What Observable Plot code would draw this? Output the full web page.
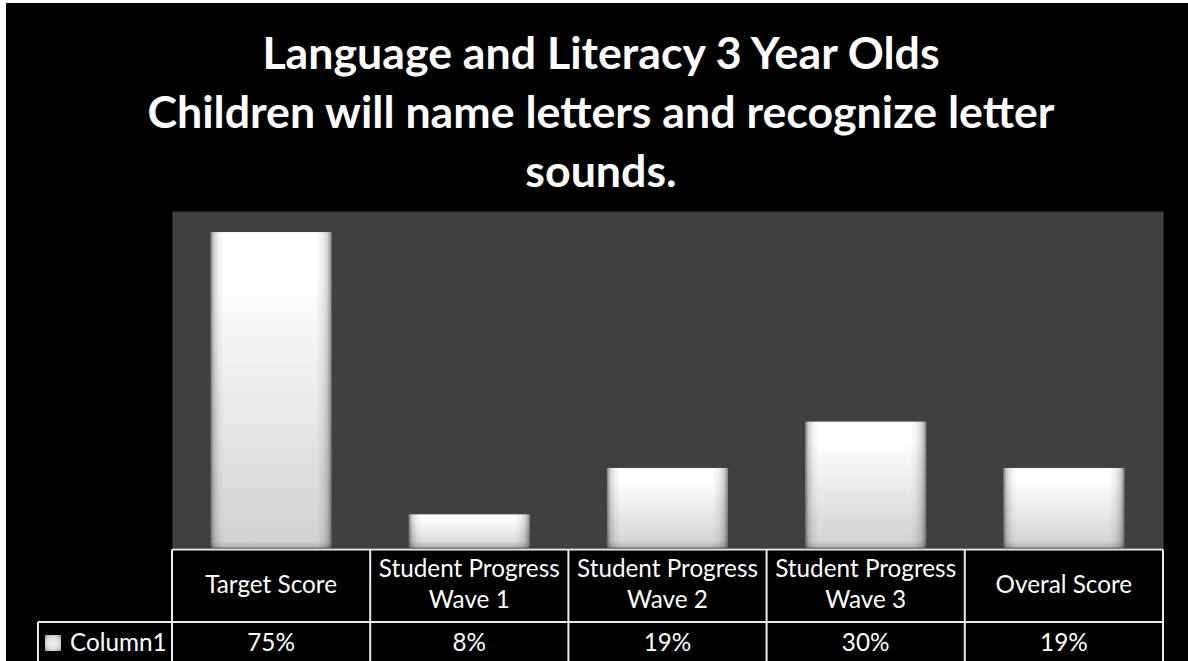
<!DOCTYPE html>
<html><head><meta charset="utf-8">
<script src="https://cdn.jsdelivr.net/npm/d3@7"></script>
<script src="https://cdn.jsdelivr.net/npm/@observablehq/plot@0.6"></script>
<style>
html,body{margin:0;padding:0;background:#fff;}
#frame{position:absolute;left:6px;top:3px;width:1182px;height:658px;background:#000;overflow:hidden;}
#frame svg{position:absolute;left:0;}
</style></head><body><div id="frame"></div>
<script>
// ---- data ----
const titleLines = ["Language and Literacy 3 Year Olds", "Children will name letters and recognize letter", "sounds."];
const categories = ["Target Score", "Student Progress\nWave 1", "Student Progress\nWave 2", "Student Progress\nWave 3", "Overal Score"];
const values = [75, 8, 19, 30, 19];
const valueLabels = ["75%", "8%", "19%", "30%", "19%"];
const seriesName = "Column1";
const yDomain = [0, 80];

// ---- layout ----
const W = 1182;
const FONT = "Lato";
const frame = d3.select("#frame");
const ctx = document.createElement("canvas").getContext("2d");
function fit(text, weight, target) {
  ctx.font = `${weight} 100px ${FONT}`;
  return 100 * target / ctx.measureText(text).width;
}
const titleSize = fit(titleLines[1], "bold", 908);
const cellSize = fit("Student Progress", "normal", 181);

// title
const tsvg = frame.append("svg").attr("width", W).attr("height", 208).style("top", "0px");
tsvg.selectAll("text").data(titleLines).join("text")
  .attr("x", 595).attr("y", (d, i) => 66 + i * 59)
  .attr("text-anchor", "middle").attr("fill", "#fff")
  .attr("font-family", FONT).attr("font-weight", "bold").attr("font-size", titleSize)
  .text(d => d);

// chart
const data = categories.map((c, i) => ({category: c, value: values[i]}));
const defs = () => {
  const d = d3.create("svg:defs");
  const g = d.append("linearGradient").attr("id", "barGrad").attr("x1", 0).attr("x2", 1).attr("y1", 0).attr("y2", 0);
  [[0, "#7a7a7a"], [0.012, "#a4a4a4"], [0.03, "#d2d2d2"], [0.065, "#f0f0f0"], [0.11, "#ffffff"],
   [0.87, "#ffffff"], [0.925, "#eeeeee"], [0.965, "#d0d0d0"], [0.988, "#a0a0a0"], [1, "#7a7a7a"]]
    .forEach(([o, c]) => g.append("stop").attr("offset", o).attr("stop-color", c));
  const v = d.append("linearGradient").attr("id", "barVert").attr("x1", 0).attr("x2", 0).attr("y1", 0).attr("y2", 1);
  v.append("stop").attr("offset", 0).attr("stop-color", "#000").attr("stop-opacity", 0);
  v.append("stop").attr("offset", 0.15).attr("stop-color", "#000").attr("stop-opacity", 0);
  v.append("stop").attr("offset", 1).attr("stop-color", "#000").attr("stop-opacity", 0.18);
  const s = d.append("linearGradient").attr("id", "barShade").attr("gradientUnits", "userSpaceOnUse")
    .attr("x1", 0).attr("x2", 0).attr("y1", 330).attr("y2", 337);
  s.append("stop").attr("offset", 0).attr("stop-color", "#000").attr("stop-opacity", 0);
  s.append("stop").attr("offset", 0.7).attr("stop-color", "#000").attr("stop-opacity", 0.12);
  s.append("stop").attr("offset", 1).attr("stop-color", "#000").attr("stop-opacity", 0.3);
  return d.node();
};
const bar = fill => Plot.barY(data, {x: "category", y: "value", fill, insetLeft: 38.5, insetRight: 38.5});
const chart = Plot.plot({
  width: W, height: 337,
  marginLeft: 166, marginRight: 25, marginTop: 0, marginBottom: 0,
  style: {background: "transparent"},
  x: {type: "band", domain: categories, padding: 0, round: false, axis: null},
  y: {domain: yDomain, axis: null},
  marks: [
    defs,
    Plot.frame({fill: "#404040", stroke: "none"}),
    bar("url(#barGrad)"),
    bar("url(#barVert)"),
    bar("url(#barShade)")
  ]
});
d3.select(chart).style("top", "208px");
frame.node().appendChild(chart);

// data table under the chart, columns from the chart's x scale
const xs = chart.scale("x");
const bw = xs.bandwidth;
const starts = categories.map(c => xs.apply(c));
const right = starts[starts.length - 1] + bw;
const tb = frame.append("svg").attr("width", W).attr("height", 113).style("top", "545px");
const idefs = tb.append("defs");
const ig = idefs.append("radialGradient").attr("id", "iconGrad").attr("r", 0.75);
ig.append("stop").attr("offset", 0).attr("stop-color", "#f4f4f4");
ig.append("stop").attr("offset", 0.55).attr("stop-color", "#dcdcdc");
ig.append("stop").attr("offset", 1).attr("stop-color", "#8a8a8a");
const lineColor = "#ececec";
const headTop = 1.5, midY = 74, bottomY = 150;
tb.append("line").attr("x1", starts[0]).attr("x2", right).attr("y1", headTop).attr("y2", headTop)
  .attr("stroke", lineColor).attr("stroke-width", 2);
tb.append("line").attr("x1", 32).attr("x2", right).attr("y1", midY).attr("y2", midY)
  .attr("stroke", lineColor).attr("stroke-width", 2);
tb.append("line").attr("x1", 32).attr("x2", 32).attr("y1", midY).attr("y2", bottomY)
  .attr("stroke", lineColor).attr("stroke-width", 2);
[...starts, right].forEach(x => tb.append("line").attr("x1", x).attr("x2", x).attr("y1", headTop).attr("y2", bottomY)
  .attr("stroke", lineColor).attr("stroke-width", 2));
categories.forEach((c, i) => {
  const lines = c.split("\n");
  const cx = starts[i] + bw / 2;
  const t = tb.append("text").attr("text-anchor", "middle").attr("fill", "#fff")
    .attr("font-family", FONT).attr("font-size", cellSize);
  lines.forEach((l, j) => t.append("tspan").attr("x", cx)
    .attr("y", lines.length === 1 ? 45 : 29 + j * 31).text(l));
  tb.append("text").attr("x", cx).attr("y", 103).attr("text-anchor", "middle").attr("fill", "#fff")
    .attr("font-family", FONT).attr("font-size", cellSize).text(valueLabels[i]);
});
tb.append("rect").attr("x", 39).attr("y", 87).attr("width", 16).attr("height", 16).attr("fill", "url(#iconGrad)");
tb.append("text").attr("x", 64).attr("y", 103).attr("fill", "#fff")
  .attr("font-family", FONT).attr("font-size", cellSize).text(seriesName);
</script>
</body></html>
